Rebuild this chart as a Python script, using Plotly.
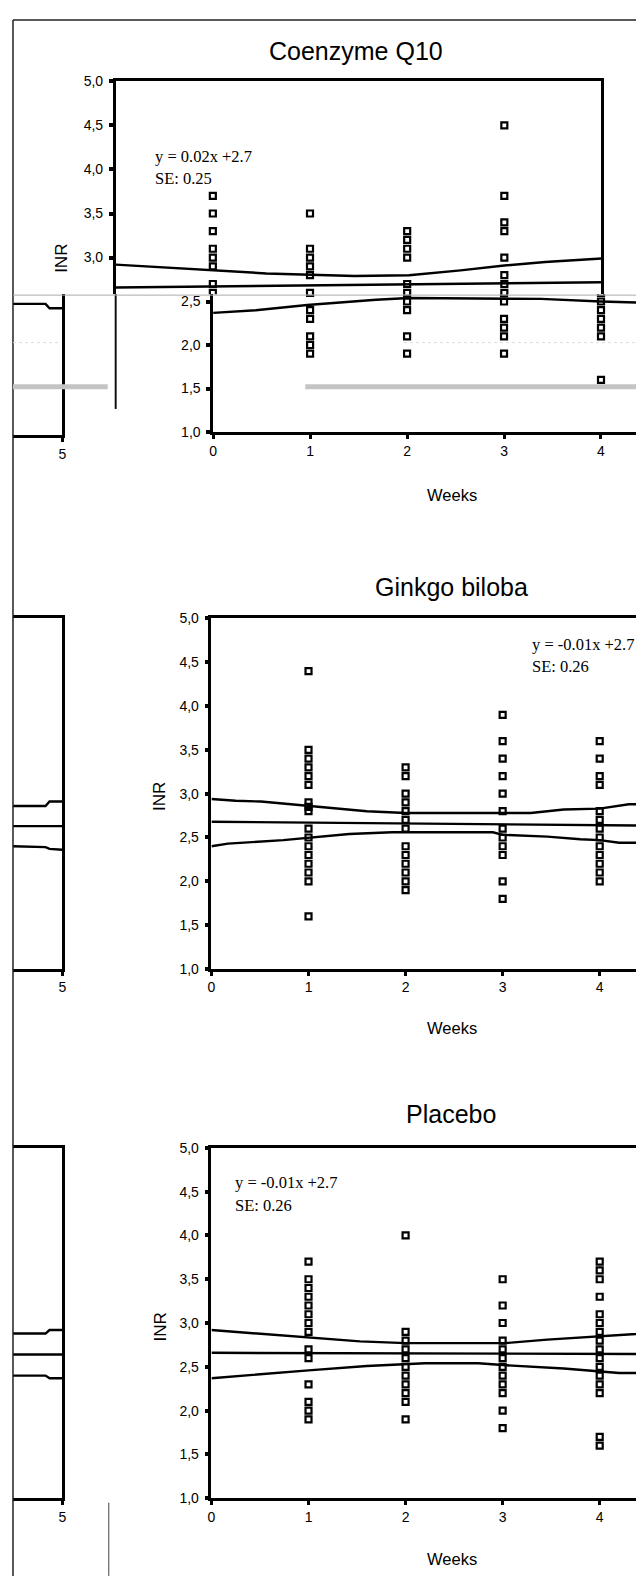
import plotly.graph_objects as go

SCREEN_W, SCREEN_H = 644, 1584
OFF = 8  # default page margin of the html body
W, H = SCREEN_W - OFF, SCREEN_H - 2 * OFF  # figure size so the page fits exactly

# ---------------- data ----------------
WEEKS = [1, 2, 3, 4]

# Coenzyme Q10 INR values per week
COQ_W1 = [3.7, 3.5, 3.3, 3.1, 3.0, 2.9, 2.7, 2.6, 2.4, 2.3, 2.1, 2.0, 1.9]
COQ_W2 = [3.5, 3.1, 3.0, 2.9, 2.8, 2.6, 2.5, 2.4, 2.1, 1.9]
COQ_W3 = [3.3, 3.2, 3.1, 3.0, 2.7, 2.6, 2.5, 2.3, 2.2, 2.1, 1.9]
COQ_W4 = [4.5, 3.7, 3.4, 3.3, 3.0, 2.8, 2.7, 2.6, 2.5, 2.4, 2.3, 2.2, 2.1, 1.6]

# Ginkgo biloba INR values per week
GIN_W1 = [4.4, 3.5, 3.4, 3.3, 3.2, 3.1, 2.9, 2.85, 2.8, 2.6, 2.5, 2.4, 2.3, 2.2, 2.1, 2.0, 1.6]
GIN_W2 = [3.3, 3.2, 3.0, 2.9, 2.8, 2.7, 2.6, 2.4, 2.3, 2.2, 2.1, 2.0, 1.9]
GIN_W3 = [3.9, 3.6, 3.4, 3.2, 3.0, 2.8, 2.6, 2.5, 2.4, 2.3, 2.0, 1.8]
GIN_W4 = [3.6, 3.4, 3.2, 3.1, 2.8, 2.7, 2.6, 2.5, 2.4, 2.3, 2.2, 2.1, 2.0]

# Placebo INR values per week
PLA_W1 = [3.7, 3.5, 3.4, 3.3, 3.2, 3.1, 3.0, 2.9, 2.7, 2.6, 2.3, 2.1, 2.0, 1.9]
PLA_W2 = [4.0, 2.9, 2.8, 2.7, 2.6, 2.5, 2.4, 2.3, 2.2, 2.1, 1.9]
PLA_W3 = [3.5, 3.2, 3.0, 2.8, 2.7, 2.6, 2.5, 2.4, 2.3, 2.2, 2.0, 1.8]
PLA_W4 = [3.7, 3.6, 3.5, 3.3, 3.1, 3.0, 2.9, 2.8, 2.7, 2.6, 2.5, 2.4, 2.3, 2.2, 1.7, 1.6]

# regression line end points and confidence curves
FIT_X = [0, 5]
COQ_FIT = [2.66, 2.72]
GIN_FIT = [2.68, 2.63]
PLA_FIT = [2.66, 2.645]

COQ_UP_X = [0, 1.0, 1.55, 2.46, 3.02, 3.55, 4.0, 4.42, 5.0]
COQ_UP = [2.92, 2.855, 2.82, 2.79, 2.80, 2.855, 2.91, 2.95, 2.99]
COQ_LO_X = [0, 0.44, 0.97, 1.68, 2.02, 3.38, 4.0, 4.4, 5.0]
COQ_LO = [2.37, 2.40, 2.46, 2.52, 2.54, 2.53, 2.50, 2.48, 2.47]

GIN_UP_X = [0, 0.25, 0.51, 1.0, 1.25, 1.6, 2.0, 3.29, 3.63, 4.0, 4.3, 4.42, 5.0]
GIN_UP = [2.94, 2.92, 2.91, 2.86, 2.84, 2.80, 2.78, 2.78, 2.82, 2.83, 2.88, 2.88, 2.92]
GIN_LO_X = [0, 0.17, 0.74, 1.0, 1.42, 1.86, 2.9, 3.0, 3.46, 3.8, 4.0, 4.2, 4.42, 5.0]
GIN_LO = [2.40, 2.43, 2.47, 2.50, 2.54, 2.56, 2.56, 2.53, 2.51, 2.48, 2.47, 2.44, 2.44, 2.40]

PLA_UP_X = [0, 0.34, 0.74, 1.0, 1.53, 2.0, 3.02, 3.46, 4.0, 4.2, 4.42, 5.0]
PLA_UP = [2.92, 2.89, 2.86, 2.83, 2.79, 2.77, 2.77, 2.81, 2.85, 2.86, 2.88, 2.92]
PLA_LO_X = [0, 0.51, 1.0, 1.6, 2.2, 2.75, 3.0, 3.63, 4.0, 4.2, 4.42, 5.0]
PLA_LO = [2.37, 2.42, 2.46, 2.51, 2.54, 2.54, 2.52, 2.48, 2.45, 2.43, 2.43, 2.38]

# right-hand ends of the neighbouring panels (cut at the left edge)
STRIP_X = [4.5, 4.83, 4.87, 5.0]
STRIP_TOP_LO = [2.49, 2.49, 2.44, 2.44]
STRIP_GIN_UP = [2.86, 2.86, 2.91, 2.91]
STRIP_GIN_FIT = [2.63, 2.63, 2.63, 2.63]
STRIP_GIN_LO = [2.40, 2.39, 2.37, 2.36]
STRIP_PLA_UP = [2.88, 2.88, 2.92, 2.92]
STRIP_PLA_FIT = [2.64, 2.64, 2.64, 2.64]
STRIP_PLA_LO = [2.40, 2.40, 2.37, 2.37]

Y_TICKS = [1.0, 1.5, 2.0, 2.5, 3.0, 3.5, 4.0, 4.5, 5.0]
Y_TICK_TEXT = ["1,0", "1,5", "2,0", "2,5", "3,0", "3,5", "4,0", "4,5", "5,0"]
X_TICKS = [0, 1, 2, 3, 4, 5]
X_TICK_TEXT = ["0", "1", "2", "3", "4", "5"]

TITLES = ["Coenzyme Q10", "Ginkgo biloba", "Placebo"]
EQS = ["y = 0.02x +2.7", "y = -0.01x +2.7", "y = -0.01x +2.7"]
SES = ["SE: 0.25", "SE: 0.26", "SE: 0.26"]

# ---------------- helpers (screen pixel -> paper fraction) ----------------
def fx(px):
    return (px - OFF) / W

def fy(py):
    return 1 - (py - OFF) / H

SANS = "Liberation Sans, Arial, sans-serif"
SERIF = "Liberation Serif, Times New Roman, serif"

fig = go.Figure()

def weeks_xy(lists):
    xs, ys = [], []
    for w, vals in zip(WEEKS, lists):
        xs += [w] * len(vals)
        ys += vals
    return xs, ys

def add_points(lists, ax):
    xs, ys = weeks_xy(lists)
    fig.add_trace(go.Scatter(
        x=xs, y=ys, mode="markers", xaxis="x" + ax, yaxis="y" + ax,
        marker=dict(symbol="square-open", size=6, color="black",
                    line=dict(color="black", width=2.2)),
        cliponaxis=True, showlegend=False, hoverinfo="skip"))

def add_line(xv, yv, ax, width=2.4):
    fig.add_trace(go.Scatter(
        x=xv, y=yv, mode="lines", xaxis="x" + ax, yaxis="y" + ax,
        line=dict(color="black", width=width), showlegend=False,
        hoverinfo="skip"))

tick_font = dict(family=SANS, size=14, color="black")

def xaxis_cfg(dom, rng, **kw):
    d = dict(domain=[fx(dom[0]), min(1.0, fx(dom[1]))], range=rng,
             showgrid=False, zeroline=False, showline=True, linecolor="black",
             linewidth=2.5, ticks="outside", ticklen=4, tickwidth=3,
             tickcolor="black", tickvals=X_TICKS, ticktext=X_TICK_TEXT,
             tickfont=tick_font, fixedrange=True)
    d.update(kw)
    return d

def yaxis_cfg(dom, rng, **kw):
    d = dict(domain=[fy(dom[1]), fy(dom[0])], range=rng, showgrid=False,
             zeroline=False, showline=True, linecolor="black", linewidth=2.5,
             ticks="outside", ticklen=4, tickwidth=3.5, tickcolor="black",
             tickvals=Y_TICKS, ticktext=Y_TICK_TEXT, tickfont=tick_font,
             ticklabelstandoff=3, fixedrange=True)
    d.update(kw)
    return d

layout = {}
RIGHT = SCREEN_W

# --- Coenzyme Q10: upper (shifted) part -> axis "" (x / y)
CUT = 2.585
layout["xaxis"] = xaxis_cfg((113, 605), [0, 5], side="top", ticks="",
                            showticklabels=False, anchor="y")
layout["yaxis"] = yaxis_cfg((74, 289), [CUT, 5.0], mirror=True, anchor="x")
# --- Coenzyme Q10: lower part -> axis 2
layout["xaxis2"] = xaxis_cfg((211.7, RIGHT), [0, (RIGHT - 211.7) / 98.2],
                             anchor="y2")
layout["yaxis2"] = yaxis_cfg((289, 428.3), [1.0, CUT], anchor="x2")
# --- Ginkgo -> axis 3
layout["xaxis3"] = xaxis_cfg((210, RIGHT), [0, (RIGHT - 210) / 98.3],
                             mirror=True, anchor="y3")
layout["yaxis3"] = yaxis_cfg((616.7, 970.7), [1.0, 5.0], anchor="x3")
# --- Placebo -> axis 4
layout["xaxis4"] = xaxis_cfg((210, RIGHT), [0, (RIGHT - 210) / 98.3],
                             mirror=True, anchor="y4")
layout["yaxis4"] = yaxis_cfg((1151.5, 1505.5), [1.0, 5.0], anchor="x4")
# --- strips (right ends of neighbouring panels)
layout["xaxis5"] = xaxis_cfg((9, 59), [4.5, 5.0], anchor="y5")
layout["yaxis5"] = yaxis_cfg((289, 431.7), [1.0, 2.6], side="right", ticks="",
                             showticklabels=False, anchor="x5")
layout["xaxis6"] = xaxis_cfg((9, 59), [4.5, 5.0], mirror=True, anchor="y6")
layout["yaxis6"] = yaxis_cfg((616.7, 970.7), [1.0, 5.0], side="right", ticks="",
                             showticklabels=False, anchor="x6")
layout["xaxis7"] = xaxis_cfg((9, 59), [4.5, 5.0], mirror=True, anchor="y7")
layout["yaxis7"] = yaxis_cfg((1151.5, 1505.5), [1.0, 5.0], side="right",
                             ticks="", showticklabels=False, anchor="x7")

# traces
coq = [COQ_W1, COQ_W2, COQ_W3, COQ_W4]
gin = [GIN_W1, GIN_W2, GIN_W3, GIN_W4]
pla = [PLA_W1, PLA_W2, PLA_W3, PLA_W4]

for ax in ["", "2"]:
    add_line(COQ_UP_X, COQ_UP, ax)
    add_line(FIT_X, COQ_FIT, ax)
    add_line(COQ_LO_X, COQ_LO, ax)
    add_points(coq, ax)

add_line(GIN_UP_X, GIN_UP, "3")
add_line(FIT_X, GIN_FIT, "3")
add_line(GIN_LO_X, GIN_LO, "3")
add_points(gin, "3")

add_line(PLA_UP_X, PLA_UP, "4")
add_line(FIT_X, PLA_FIT, "4")
add_line(PLA_LO_X, PLA_LO, "4")
add_points(pla, "4")

add_line(STRIP_X, STRIP_TOP_LO, "5")
add_line(STRIP_X, STRIP_GIN_UP, "6")
add_line(STRIP_X, STRIP_GIN_FIT, "6")
add_line(STRIP_X, STRIP_GIN_LO, "6")
add_line(STRIP_X, STRIP_PLA_UP, "7")
add_line(STRIP_X, STRIP_PLA_FIT, "7")
add_line(STRIP_X, STRIP_PLA_LO, "7")

# annotations
ann = []
def text(x, y, s, size, family=SANS, xanchor="center", angle=0):
    ann.append(dict(x=fx(x), y=fy(y), xref="paper", yref="paper", text=s,
                    showarrow=False, xanchor=xanchor, yanchor="middle",
                    textangle=angle,
                    font=dict(family=family, size=size, color="black")))

title_pos = [(356, 43), (453, 585), (453, 1117)]
eq_pos = [(151, 150, 172), (533, 643, 665), (232, 1187, 1210)]
weeks_y = [492, 1030, 1567]
inr_pos = [(58, 253), (158, 797), (158, 1333)]
for i in range(3):
    text(*title_pos[i], TITLES[i], 25)
    text(eq_pos[i][0], eq_pos[i][1], EQS[i], 16.5, SERIF, "left")
    text(eq_pos[i][0], eq_pos[i][2], SES[i], 16.5, SERIF, "left")
    text(454, weeks_y[i], "Weeks", 16.5)
    text(inr_pos[i][0], inr_pos[i][1], "INR", 17, angle=-90)

# decorative page frame and scan artefacts
def hline(x0, x1, y, color, width, dash="solid"):
    return dict(type="line", xref="paper", yref="paper", x0=fx(x0), x1=fx(x1),
                y0=fy(y), y1=fy(y), line=dict(color=color, width=width, dash=dash))

def vline(x, y0, y1, color, width):
    return dict(type="line", xref="paper", yref="paper", x0=fx(x), x1=fx(x),
                y0=fy(y0), y1=fy(y1), line=dict(color=color, width=width))

def band(x0, x1, y0, y1, color):
    return dict(type="rect", xref="paper", yref="paper", x0=fx(x0), x1=fx(x1),
                y0=fy(y1), y1=fy(y0), line=dict(width=0), fillcolor=color)

shapes = [
    hline(9, RIGHT, 12, "#222", 1.5),
    vline(9, 12, SCREEN_H, "#222", 1.5),
    vline(106, 1510, SCREEN_H, "#444", 1),
    vline(113, 289, 405, "#111", 2),
    hline(9, RIGHT, 290, "#aaa", 1),
    band(9, 105, 380, 385, "#c4c4c4"),
    band(305, RIGHT, 380, 385, "#c4c4c4"),
    hline(405, RIGHT, 338, "#ddd", 1, "dot"),
    hline(9, 58, 338, "#ddd", 1, "dot"),
]

fig.update_layout(
    width=W, height=H, margin=dict(l=0, r=0, t=0, b=0),
    paper_bgcolor="white", plot_bgcolor="rgba(0,0,0,0)",
    showlegend=False, annotations=ann, shapes=shapes,
    font=dict(family=SANS, color="black"),
    **layout)

fig.write_html("out.html")
